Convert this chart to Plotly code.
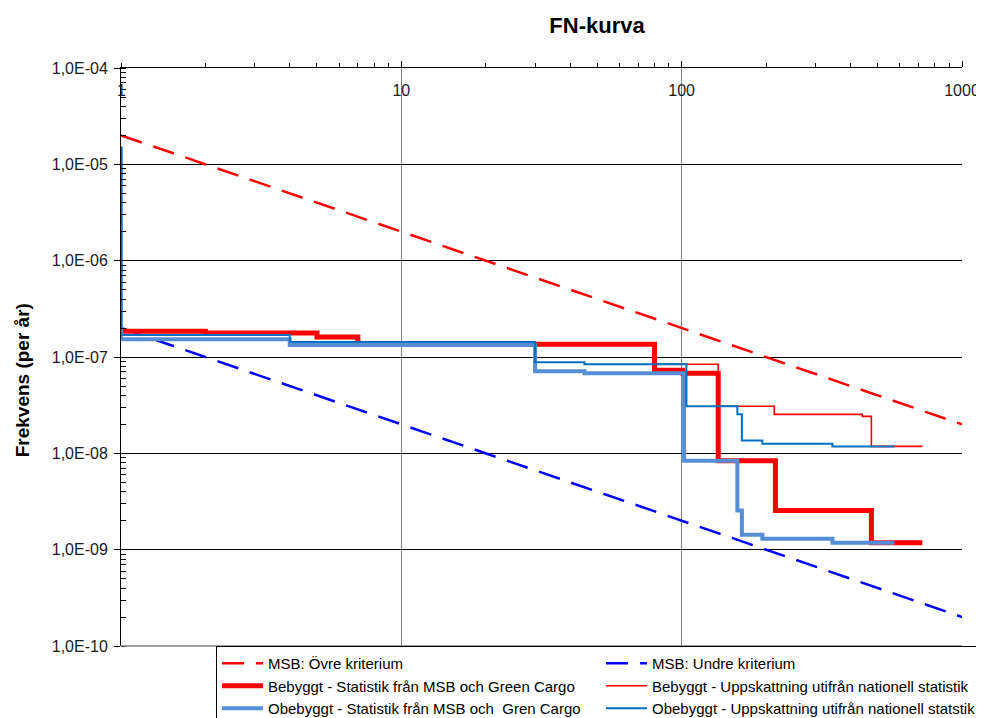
import plotly.graph_objects as go

# ---------------- data ----------------
crit_N = [1, 1000]
ovre_F = [2e-5, 2e-8]
undre_F = [2e-7, 2e-10]

beb_stat_N = [1, 2, 5, 7, 80, 101, 135, 216, 475, 722]
beb_stat_F = [1.85e-7, 1.77e-7, 1.61e-7, 1.36e-7, 7.3e-8, 6.8e-8, 8.4e-9, 2.55e-9, 1.18e-9, 1.18e-9]

beb_upp_N = [1, 2, 5, 7, 80, 135, 214, 441, 475, 722]
beb_upp_F = [1.85e-7, 1.77e-7, 1.61e-7, 1.36e-7, 8.4e-8, 3.08e-8, 2.54e-8, 2.42e-8, 1.18e-8, 1.18e-8]

obe_stat_N = [1, 1, 4, 30, 45, 102, 158, 164, 194, 345, 574]
obe_stat_F = [1.52e-5, 1.53e-7, 1.33e-7, 7.1e-8, 6.8e-8, 8.4e-9, 2.55e-9, 1.43e-9, 1.3e-9, 1.18e-9, 1.18e-9]

obe_upp_N = [1, 1, 4, 30, 45, 104, 158, 164, 194, 345, 574]
obe_upp_F = [1.52e-5, 1.69e-7, 1.43e-7, 8.8e-8, 8.4e-8, 3.08e-8, 2.54e-8, 1.36e-8, 1.26e-8, 1.18e-8, 1.18e-8]

x_tickvals = [10, 100, 1000]
x_ticktext = ["10", "100", "1000"]
x_first_label = "1"
y_tickvals = [1e-10, 1e-9, 1e-8, 1e-7, 1e-6, 1e-5, 1e-4]
y_ticktext = ["1,0E-10", "1,0E-09", "1,0E-08", "1,0E-07", "1,0E-06", "1,0E-05", "1,0E-04"]

names = [
    "MSB: Övre kriterium",
    "MSB: Undre kriterium",
    "Bebyggt - Statistik från MSB och Green Cargo",
    "Bebyggt - Uppskattning utifrån nationell statistik",
    "Obebyggt - Statistik från MSB och  Gren Cargo",
    "Obebyggt - Uppskattning utifrån nationell statstik",
]

FONT = "Liberation Sans, Arial, sans-serif"
W, H = 976, 710          # page body has an 8px margin
L, R, T, B = 113, 22, 60, 72
PW, PH = W - L - R, H - T - B

fig = go.Figure()
fig.add_trace(go.Scatter(x=crit_N, y=ovre_F, mode="lines", name=names[0],
                         line=dict(color="#FF0000", width=2.5, dash="22px,12px")))
fig.add_trace(go.Scatter(x=crit_N, y=undre_F, mode="lines", name=names[1],
                         line=dict(color="#0000FF", width=2.5, dash="22px,12px")))
fig.add_trace(go.Scatter(x=beb_stat_N, y=beb_stat_F, mode="lines", name=names[2],
                         line=dict(color="#FF0000", width=5, shape="hv")))
fig.add_trace(go.Scatter(x=beb_upp_N, y=beb_upp_F, mode="lines", name=names[3],
                         line=dict(color="#FF0000", width=1.6, shape="hv")))
fig.add_trace(go.Scatter(x=obe_stat_N, y=obe_stat_F, mode="lines", name=names[4],
                         line=dict(color="#558ED5", width=4, shape="hv")))
fig.add_trace(go.Scatter(x=obe_upp_N, y=obe_upp_F, mode="lines", name=names[5],
                         line=dict(color="#0070C0", width=2, shape="hv")))

fig.update_layout(
    width=W, height=H,
    margin=dict(l=L, r=R, t=T, b=B, autoexpand=False),
    paper_bgcolor="white", plot_bgcolor="white",
    font=dict(family=FONT, color="#1a1a1a"),
    title=dict(text="<b>FN-kurva</b>", x=589 / W, xref="container", xanchor="center",
               y=1 - 17 / H, yanchor="middle", font=dict(size=22, family=FONT, color="#000")),
    showlegend=True,
    legend=dict(orientation="h", x=(978 - L) / PW, xanchor="right", y=0, yanchor="top",
                bgcolor="white", bordercolor="#000", borderwidth=1,
                entrywidth=328, entrywidthmode="pixels", itemwidth=41,
                font=dict(size=15, family=FONT, color="#000"), traceorder="normal"),
)

fig.update_xaxes(
    type="log", range=[0, 3], side="top",
    tickvals=x_tickvals, ticktext=x_ticktext,
    ticks="outside", ticklen=6, tickcolor="#000",
    ticklabelposition="inside", ticklabeloverflow="allow", ticklabelstandoff=17,
    tickfont=dict(size=16, family=FONT, color="#1a1a1a"),
    showline=True, linecolor="#000", linewidth=1,
    showgrid=True, gridcolor="#808080", gridwidth=1,
    zeroline=False,
    minor=dict(ticks="outside", ticklen=4, tickcolor="#000", dtick="D1", showgrid=False),
)
fig.update_yaxes(
    type="log", range=[-10, -4],
    tickvals=y_tickvals, ticktext=y_ticktext,
    ticks="outside", ticklen=6, tickcolor="#000", ticklabelstandoff=3,
    tickfont=dict(size=16, family=FONT, color="#1a1a1a"),
    showline=True, linecolor="#000", linewidth=1,
    showgrid=True, gridcolor="#000", gridwidth=1,
    zeroline=False,
    minor=dict(ticks="inside", ticklen=5, tickcolor="#000", dtick="D1", showgrid=False),
)

# first x tick label ("1") sits on the y axis line; plotly hides it, so place it as text
fig.add_annotation(text=x_first_label, xref="x", yref="paper", x=0, y=1,
                   xanchor="center", yanchor="middle", yshift=-22, showarrow=False,
                   font=dict(size=16, family=FONT, color="#1a1a1a"))

fig.add_shape(type="line", xref="paper", yref="paper", x0=0, x1=1, y0=0, y1=0,
              line=dict(color="#808080", width=1.5), layer="above")

fig.add_annotation(text="<b>Frekvens (per år)</b>", textangle=-90,
                   xref="paper", yref="paper",
                   x=(14 - L) / PW, y=(637.7 - 372) / PH,
                   xanchor="center", yanchor="middle", showarrow=False,
                   font=dict(size=19, family=FONT, color="#000"))

fig.write_html("out.html")
